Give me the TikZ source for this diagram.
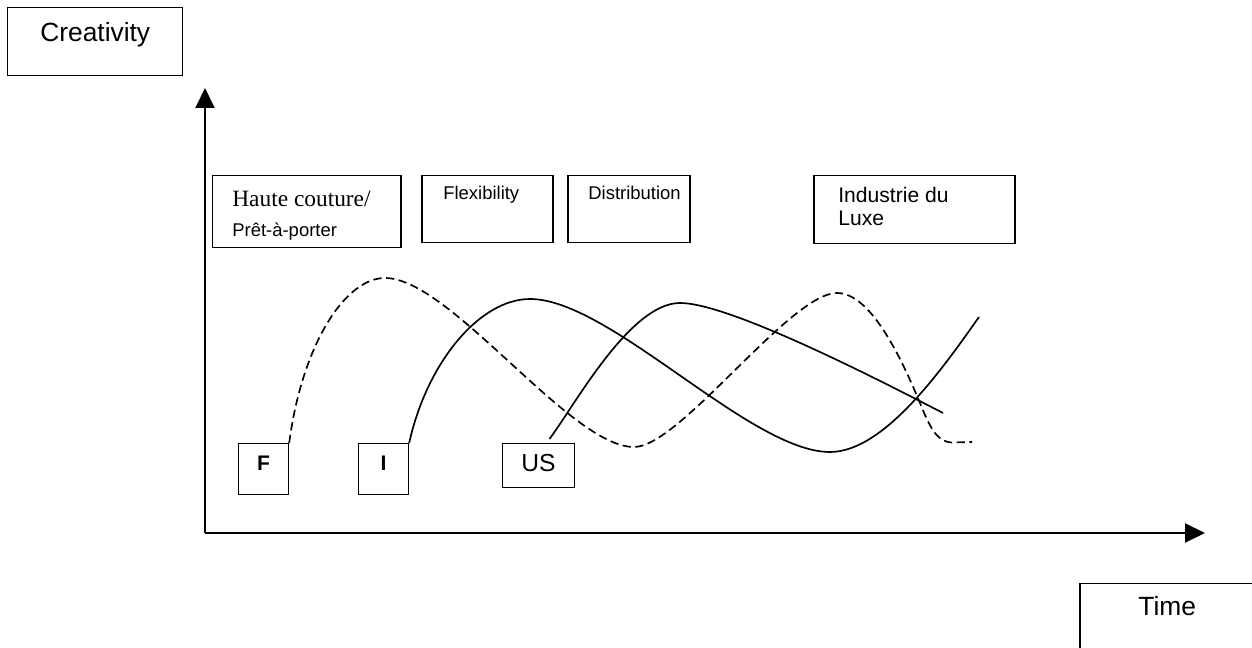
\documentclass[tikz,border=0pt]{standalone}
\usepackage{fontspec}
\setmainfont{Liberation Sans}
\newfontfamily\timesfont{Liberation Serif}
\usetikzlibrary{arrows.meta}

\tikzset{
  box/.style={draw, line width=0.85pt, rectangle, anchor=north west, inner sep=0pt},
  axisbox/.style={box, minimum width=35mm, minimum height=13.6mm, font=\fontsize{15}{17}\selectfont},
  periodbox/.style={box, minimum height=13.4mm},
  countrybox/.style={box, minimum width=10mm, minimum height=10.2mm, text depth=2.4mm, font=\fontsize{12}{14}\selectfont\bfseries},
  boxtext/.style={inner sep=0pt, align=left, font=\fontsize{10.5}{13}\selectfont},
  axis/.style={line width=1.1pt, -{Triangle[length=4mm,width=3.8mm]}},
  wave/.style={line width=0.95pt},
  wavedash/.style={wave, dash pattern=on 1.65mm off 0.9mm}
}

\begin{document}
\begin{tikzpicture}[x=0.2mm,y=-0.2mm]
  \useasboundingbox (0,0) rectangle (1252,648);
  \clip (0,0) rectangle (1252,648);

  % axes
  \coordinate (origin) at (205,533);
  \coordinate (ytip) at (205,88);
  \coordinate (xtip) at (1205,533);
  \draw[axis] (origin) -- (ytip);
  \draw[axis] (origin) -- (xtip);
  \node[axisbox, text depth=4mm] (creativity) at (7,7) {Creativity};
  \node[axisbox, text depth=4.8mm] (time) at (1079,583) {Time};

  % periods along the top
  \node[periodbox, minimum width=37.6mm, minimum height=14.4mm] (haute) at (212,175) {};
  \node[periodbox, minimum width=26.2mm] (flex) at (421,175) {};
  \node[periodbox, minimum width=24.4mm] (distrib) at (567,175) {};
  \node[periodbox, minimum width=40.2mm, minimum height=13.6mm] (luxe) at (813,175) {};
  \node[boxtext, anchor=north west, font=\fontsize{10.5}{17}\selectfont] (haute text)
    at ([shift={(20,16)}]haute.north west)
    {{\timesfont\fontsize{13.3}{17}\selectfont Haute couture/}\\Prêt-à-porter};
  \node[boxtext, anchor=base west] (flex text) at ([shift={(22,25)}]flex.north west) {Flexibility};
  \node[boxtext, anchor=base west] (distrib text) at ([shift={(21,25)}]distrib.north west) {Distribution};
  \node[boxtext, anchor=north west, font=\fontsize{12}{13.3}\selectfont] (luxe text)
    at ([shift={(25,11.5)}]luxe.north west) {Industrie du\\Luxe};

  % countries
  \node[countrybox] (F) at (237.7,443) {F};
  \node[countrybox] (I) at (357.7,443) {I};
  \node[box, minimum width=14.4mm, minimum height=8.8mm, text depth=1mm,
        font=\fontsize{14}{16}\selectfont] (US) at (501.7,443) {US};

  % creativity waves
  \draw[wavedash] (F.north east) .. controls (302,345) and (345,278) .. (385,278)
    .. controls (450,278) and (570,447) .. (634,447)
    .. controls (680,447) and (790,293) .. (837,293)
    .. controls (870,293) and (900,355) .. (920,403)
    .. controls (929,425) and (936,442) .. (952,442.5) -- (972,442);
  \draw[wave] (I.north east) .. controls (427,362) and (480,299) .. (530,299)
    .. controls (610,299) and (750,452) .. (830,452)
    .. controls (885,452) and (945,365) .. (979,317);
  \draw[wave] ([xshift=2.2mm,yshift=0.8mm]US.north) .. controls (575,405) and (630,303) .. (680,303)
    .. controls (730,303) and (883,382) .. (943,413);
\end{tikzpicture}
\end{document}
